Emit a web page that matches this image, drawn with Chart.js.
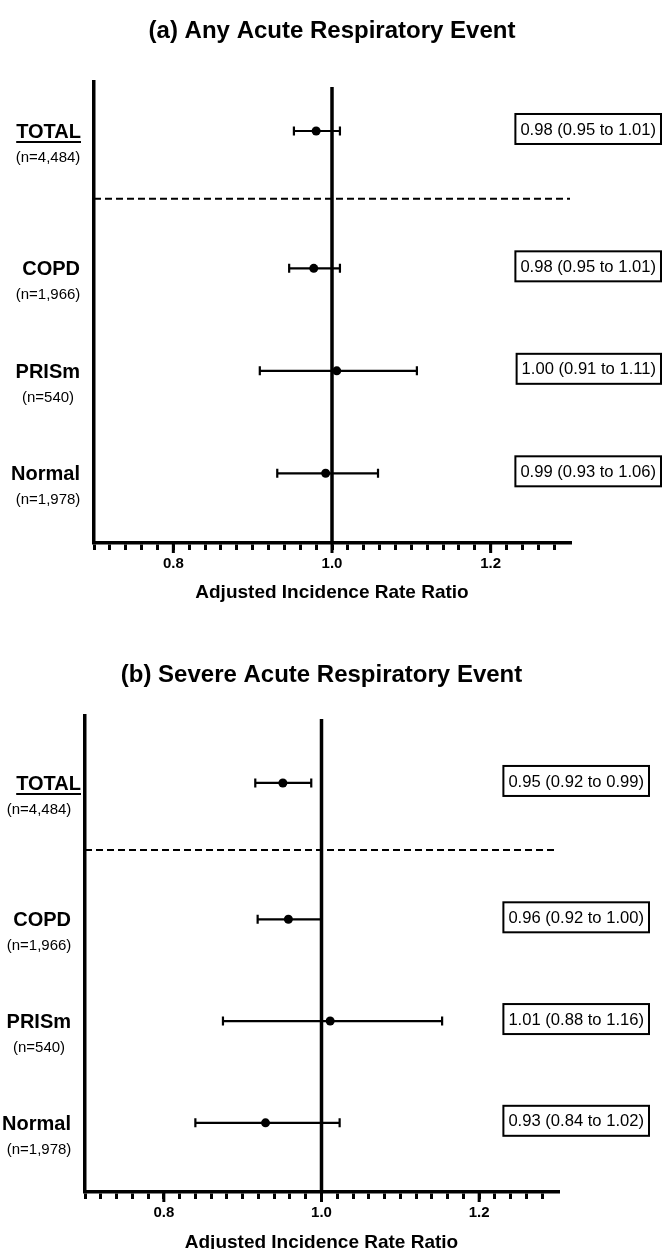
<!DOCTYPE html>
<html>
<head>
<meta charset="utf-8">
<script src="https://cdn.jsdelivr.net/npm/chart.js@4.4.1/dist/chart.umd.min.js"></script>
<style>
  html, body { margin: 0; padding: 0; background: #fff; overflow: hidden; }
  canvas { display: block; }
</style>
</head>
<body>
<canvas id="chartA" width="671" height="620"></canvas>
<canvas id="chartB" width="671" height="640"></canvas>
<script>
// subgroups, top to bottom
const groups = ['TOTAL', 'COPD', 'PRISm', 'Normal'];
const groupN = ['(n=4,484)', '(n=1,966)', '(n=540)', '(n=1,978)'];

// (a) any acute respiratory event - IRR and 95% CI
const irrA = [0.98, 0.977, 1.006, 0.992];
const lowA = [0.952, 0.946, 0.909, 0.931];
const highA = [1.01, 1.01, 1.107, 1.058];
const textA = ['0.98 (0.95 to 1.01)', '0.98 (0.95 to 1.01)', '1.00 (0.91 to 1.11)', '0.99 (0.93 to 1.06)'];

// (b) severe acute respiratory event
const irrB = [0.951, 0.958, 1.011, 0.929];
const lowB = [0.916, 0.919, 0.875, 0.84];
const highB = [0.987, 1.0, 1.153, 1.023];
const textB = ['0.95 (0.92 to 0.99)', '0.96 (0.92 to 1.00)', '1.01 (0.88 to 1.16)', '0.93 (0.84 to 1.02)'];

const xMajor = [0.8, 1.0, 1.2];

// layout: row positions on the y scale (1 unit = one row gap)
const rowY = [4.02, 2.68, 1.68, 0.68];
const dividerY = 3.36;

const FONT = "'Liberation Sans', Arial, sans-serif";
Chart.defaults.font.family = FONT;
Chart.defaults.color = '#000';

const forest = {
  id: 'forest',
  beforeDatasetsDraw(chart, args, o) {
    const { ctx, chartArea: a, scales: { x, y } } = chart;
    ctx.save();
    ctx.strokeStyle = '#000';

    // dashed line under TOTAL
    ctx.lineWidth = 2;
    ctx.setLineDash([7, 4]);
    const dy = y.getPixelForValue(dividerY);
    ctx.beginPath();
    ctx.moveTo(a.left, dy);
    ctx.lineTo(a.right, dy);
    ctx.stroke();
    ctx.setLineDash([]);

    // line of no effect
    const rx = x.getPixelForValue(1);
    ctx.lineWidth = 3.5;
    ctx.beginPath();
    ctx.moveTo(rx, a.top + o.refGap);
    ctx.lineTo(rx, a.bottom);
    ctx.stroke();

    // confidence intervals
    ctx.lineWidth = 2.2;
    o.low.forEach((lo, i) => {
      const py = y.getPixelForValue(rowY[i]);
      const x0 = x.getPixelForValue(lo);
      const x1 = x.getPixelForValue(o.high[i]);
      ctx.beginPath();
      ctx.moveTo(x0, py); ctx.lineTo(x1, py);
      ctx.moveTo(x0, py - 4.5); ctx.lineTo(x0, py + 4.5);
      ctx.moveTo(x1, py - 4.5); ctx.lineTo(x1, py + 4.5);
      ctx.stroke();
    });
    ctx.restore();
  },
  afterDraw(chart, args, o) {
    const { ctx, chartArea: a, scales: { x, y } } = chart;
    ctx.save();
    ctx.fillStyle = '#000';
    ctx.strokeStyle = '#000';

    // longer ticks at the labelled values
    ctx.lineWidth = 3;
    xMajor.forEach(v => {
      const px = x.getPixelForValue(v);
      ctx.beginPath();
      ctx.moveTo(px, a.bottom);
      ctx.lineTo(px, a.bottom + 10);
      ctx.stroke();
    });

    groups.forEach((g, i) => {
      const py = y.getPixelForValue(rowY[i]);

      // group name + n
      ctx.font = 'bold 20px ' + FONT;
      ctx.textAlign = 'right';
      ctx.textBaseline = 'alphabetic';
      const right = a.left - (i === 0 ? o.totalInset : 14);
      ctx.fillText(g, right, py + 7);
      if (i === 0) {
        const w = ctx.measureText(g).width;
        ctx.lineWidth = 2;
        ctx.beginPath();
        ctx.moveTo(right - w, py + 11);
        ctx.lineTo(right, py + 11);
        ctx.stroke();
      }
      ctx.font = '15px ' + FONT;
      ctx.textAlign = 'center';
      ctx.textBaseline = 'middle';
      ctx.fillText(groupN[i], a.left - 46, py + 27);

      // estimate box
      ctx.font = '16.6px ' + FONT;
      const tw = ctx.measureText(o.text[i]).width;
      const bx1 = a.right + 91;
      const bx0 = bx1 - tw - 10;
      const by = py - 2;
      ctx.lineWidth = 2;
      ctx.strokeRect(bx0, by - 15, bx1 - bx0, 30);
      ctx.textAlign = 'left';
      ctx.fillText(o.text[i], bx0 + 5, by + 1);
    });
    ctx.restore();
  }
};

function makeChart(id, title, irr, low, high, text, L) {
  return new Chart(document.getElementById(id), {
    type: 'scatter',
    data: {
      datasets: [{
        data: irr.map((v, i) => ({ x: v, y: rowY[i] })),
        pointRadius: 4.5,
        pointBackgroundColor: '#000',
        pointBorderWidth: 0
      }]
    },
    options: {
      responsive: false,
      animation: false,
      devicePixelRatio: 1,
      layout: { padding: { left: L.left, right: L.right, top: 0, bottom: 0 } },
      scales: {
        x: {
          type: 'linear',
          min: 0.7,
          max: 1.3,
          ticks: {
            stepSize: 0.02,
            autoSkip: false,
            maxRotation: 0,
            padding: 4.5,
            color: '#000',
            font: { size: 15, weight: 'bold' },
            callback: v => xMajor.some(t => Math.abs(t - v) < 1e-6) ? v.toFixed(1) : ''
          },
          grid: {
            drawOnChartArea: false,
            tickLength: 7,
            lineWidth: 3,
            color: c => (c.tick && c.tick.value > 1.29) ? 'rgba(0,0,0,0)' : '#000'
          },
          border: { color: '#000', width: 3.5 },
          title: {
            display: true,
            text: 'Adjusted Incidence Rate Ratio',
            color: '#000',
            font: { size: 19, weight: 'bold' },
            padding: { top: 0, bottom: L.axisTitlePad }
          },
          afterFit: s => { s.height = L.xHeight; }
        },
        y: {
          type: 'linear',
          min: 0,
          max: L.yMax,
          ticks: { display: false },
          grid: { display: false },
          border: { color: '#000', width: 3.5 },
          afterFit: s => { s.width = 0; }
        }
      },
      plugins: {
        legend: { display: false },
        tooltip: { enabled: false },
        title: {
          display: true,
          text: title,
          color: '#000',
          font: { size: 24, weight: 'bold' },
          padding: { top: L.titleTop, bottom: L.titleBottom }
        },
        forest: { low, high, text, refGap: L.refGap, totalInset: L.totalInset }
      }
    },
    plugins: [forest]
  });
}

makeChart('chartA', '(a) Any Acute Respiratory Event', irrA, lowA, highA, textA,
  { left: 94, right: 101, titleTop: 16.6, titleBottom: 36.6, xHeight: 77, axisTitlePad: 15.6, yMax: 4.498, refGap: 5, totalInset: 13 });

makeChart('chartB', '(b) Severe Acute Respiratory Event', irrB, lowB, highB, textB,
  { left: 85, right: 113, titleTop: 40.6, titleBottom: 26.6, xHeight: 68, axisTitlePad: 5.6, yMax: 4.678, refGap: 3, totalInset: 4 });
</script>
</body>
</html>
